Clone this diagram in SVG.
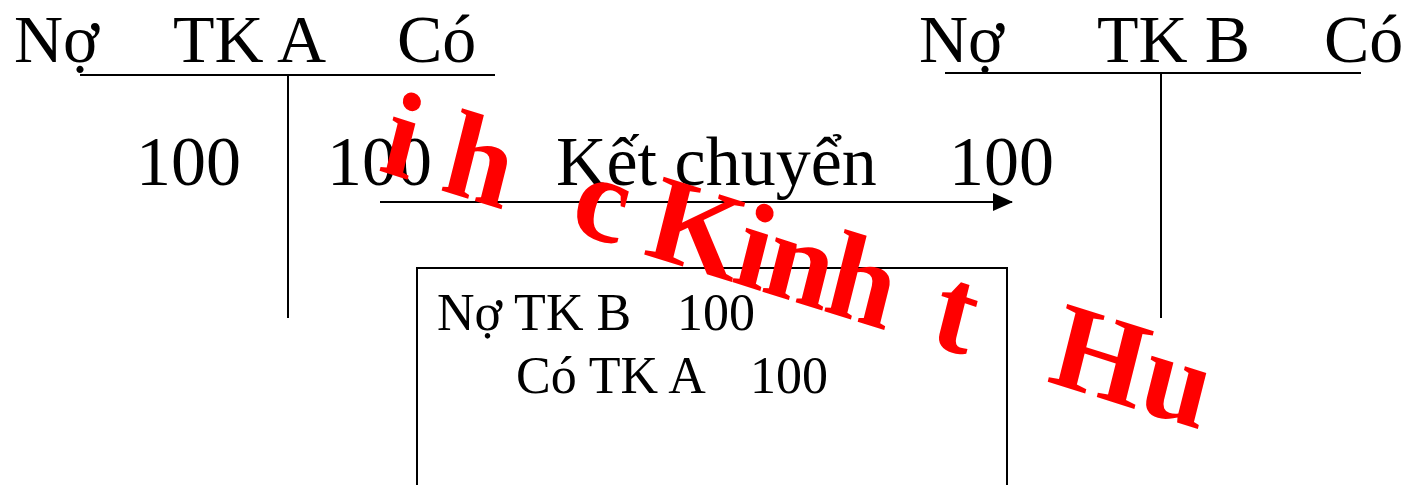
<svg xmlns="http://www.w3.org/2000/svg" width="1408" height="485" viewBox="0 0 1408 485">
<style>
text{font-family:"Liberation Serif","Times New Roman",serif;fill:#000}
.h{font-size:68px}
.n{font-size:70px}
.b{font-size:52px}
.ln{stroke:#000;stroke-width:2;fill:none}
.wm{font-family:"Liberation Serif","Times New Roman",serif;font-size:122px;font-weight:bold;fill:#FF0000}
</style>
<defs>
<marker id="ah" markerWidth="20" markerHeight="18" refX="19" refY="9" orient="auto" markerUnits="userSpaceOnUse">
<path d="M0,0 L20,9 L0,18 Z" fill="#000"/>
</marker>
</defs>
<rect width="1408" height="485" fill="#fff"/>
<g id="tk-a">
<text class="h" x="14" y="62">Nợ</text>
<text class="h" x="173" y="62">TK A</text>
<text class="h" x="397" y="62">Có</text>
<line class="ln" x1="80" y1="75" x2="495" y2="75"/>
<line class="ln" x1="288" y1="75" x2="288" y2="318"/>
<text class="n" x="136" y="185">100</text>
<text class="n" x="327" y="185">100</text>
</g>
<g id="tk-b">
<text class="h" x="919" y="62">Nợ</text>
<text class="h" x="1097" y="62">TK B</text>
<text class="h" x="1324" y="62">Có</text>
<line class="ln" x1="945" y1="73" x2="1361" y2="73"/>
<line class="ln" x1="1161" y1="73" x2="1161" y2="318"/>
<text class="n" x="949" y="185">100</text>
</g>
<g id="connectors">
<line class="ln" x1="380" y1="202" x2="1012" y2="202" marker-end="url(#ah)"/>
<text class="n" x="556" y="185">Kết chuyển</text>
</g>
<g id="entry">
<rect class="ln" x="417" y="268" width="590" height="240"/>
<text class="b" x="437" y="330">Nợ TK B</text>
<text class="b" x="677" y="330">100</text>
<text class="b" x="516" y="393">Có TK A</text>
<text class="b" x="750" y="393">100</text>
</g>
<g id="watermark" transform="matrix(0.954 0.301 -0.243 0.972 377 170)">
<text class="wm" x="0" y="0">i h</text>
<text class="wm" x="200" y="0">c</text>
<text class="wm" x="278" y="0" letter-spacing="-3">Kinh</text>
<text class="wm" x="577" y="0">t</text>
<text class="wm" x="701" y="0">Hu</text>
</g>
</svg>
